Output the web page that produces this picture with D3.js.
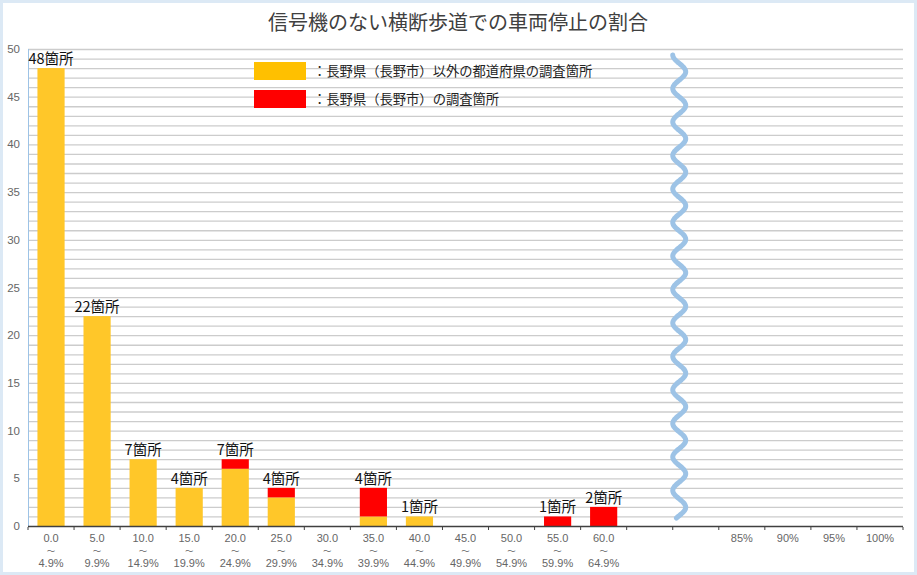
<!DOCTYPE html>
<html>
<head>
<meta charset="utf-8">
<style>
  body { margin: 0; background: #fff; }
  svg { display: block; }
  text { font-family: "Noto Sans CJK JP", "Noto Sans", sans-serif; }
  .lat { font-family: "Liberation Sans", "DejaVu Sans", sans-serif; }
</style>
<script src="https://d3js.org/d3.v7.min.js"></script>
</head>
<body>
<svg width="917" height="575"></svg>
<script>
// slot keys along the x axis (two blanks before the broken part)
var slots = ["0.0", "5.0", "10.0", "15.0", "20.0", "25.0", "30.0", "35.0", "40.0",
             "45.0", "50.0", "55.0", "60.0", "gap1", "gap2", "85%", "90%", "95%", "100%"];
var lowLabels = ["4.9%", "9.9%", "14.9%", "19.9%", "24.9%", "29.9%", "34.9%", "39.9%", "44.9%",
                 "49.9%", "54.9%", "59.9%", "64.9%", "", "", "", "", "", ""];
// survey spots outside Nagano (yellow) and in Nagano city (red)
var otherCounts = [48, 22, 7, 4, 6, 3, 0, 1, 1, 0, 0, 0, 0, 0, 0, 0, 0, 0, 0];
var naganoCounts = [0, 0, 0, 0, 1, 1, 0, 3, 0, 0, 0, 1, 2, 0, 0, 0, 0, 0, 0];
var yTicks = [0, 5, 10, 15, 20, 25, 30, 35, 40, 45, 50];
var legendNames = ["：長野県（長野市）以外の都道府県の調査箇所", "：長野県（長野市）の調査箇所"];
var title = "信号機のない横断歩道での車両停止の割合";

var yellow = "#FFC729", red = "#FF0000";
var svg = d3.select("svg");

// frame
svg.append("rect").attr("x", 1.5).attr("y", 1.5).attr("width", 914).attr("height", 572)
  .attr("fill", "#fff").attr("stroke", "#dce9f5").attr("stroke-width", 3);

var x = d3.scaleBand().domain(slots).range([28, 903]).paddingInner(0.41).paddingOuter(0.205);
var y = d3.scaleLinear().domain([0, 50]).range([526, 49]);
var step = x.step();

// gridlines every 1
svg.append("g").selectAll("line")
  .data(d3.range(1, 51))
  .enter().append("line")
  .attr("x1", 28).attr("x2", 903)
  .attr("y1", d => y(d) + 0.5).attr("y2", d => y(d) + 0.5)
  .attr("stroke", "#cccccc").attr("stroke-width", 1.3);

// y labels
svg.append("g").selectAll("text")
  .data(yTicks)
  .enter().append("text")
  .attr("class", "lat")
  .attr("x", 20).attr("y", d => y(d) + 4)
  .attr("text-anchor", "end")
  .attr("font-size", 11.5).attr("fill", "#666")
  .text(d => d);

// y axis line
svg.append("line").attr("x1", 28.5).attr("x2", 28.5).attr("y1", 49).attr("y2", 526)
  .attr("stroke", "#9dc3e6").attr("stroke-width", 1);

// stacked bars
var rows = slots.map((s, i) => ({ key: s, other: otherCounts[i], nagano: naganoCounts[i] }));
var stacked = d3.stack().keys(["other", "nagano"])(rows);
var colors = { other: yellow, nagano: red };

svg.append("g").selectAll("g")
  .data(stacked)
  .enter().append("g")
  .attr("fill", d => colors[d.key])
  .selectAll("rect")
  .data(d => d)
  .enter().append("rect")
  .attr("x", d => x(d.data.key))
  .attr("width", x.bandwidth())
  .attr("y", d => y(d[1]))
  .attr("height", d => y(d[0]) - y(d[1]));

// total labels
svg.append("g").selectAll("text")
  .data(rows.filter(d => d.other + d.nagano > 0))
  .enter().append("text")
  .attr("x", d => x(d.key) + x.bandwidth() / 2)
  .attr("y", d => y(d.other + d.nagano) - 4)
  .attr("text-anchor", "middle")
  .attr("font-size", 14.5).attr("fill", "#111")
  .text(d => (d.other + d.nagano) + "箇所");

// x axis line + small ticks
svg.append("line").attr("x1", 28).attr("x2", 903).attr("y1", 526.5).attr("y2", 526.5)
  .attr("stroke", "#404040").attr("stroke-width", 1.5);
svg.append("g").selectAll("line")
  .data(d3.range(0, slots.length + 1))
  .enter().append("line")
  .attr("x1", d => 28 + d * step).attr("x2", d => 28 + d * step)
  .attr("y1", 527).attr("y2", 530)
  .attr("stroke", "#404040").attr("stroke-width", 1);

// x labels
var xl = svg.append("g").attr("fill", "#666").attr("text-anchor", "middle");
slots.forEach((s, i) => {
  if (s.indexOf("gap") === 0) return;
  var cx = x(s) + x.bandwidth() / 2;
  xl.append("text").attr("class", "lat").attr("font-size", 11).attr("x", cx).attr("y", 542).text(s);
  if (lowLabels[i]) {
    xl.append("text").attr("font-size", 8.5).attr("x", cx).attr("y", 554).text("～");
    xl.append("text").attr("class", "lat").attr("font-size", 11).attr("x", cx).attr("y", 567).text(lowLabels[i]);
  }
});

// axis break mark (wavy line)
var bx = 28 + 14 * step + 6.5;
var wave = d3.range(55, 518.5, 1).map(v => [bx - 6.5 * Math.cos((v - 55) / 33.5 * 2 * Math.PI), v]);
svg.append("path").attr("d", d3.line().curve(d3.curveBasis)(wave))
  .attr("fill", "none").attr("stroke", "#9dc3e6").attr("stroke-width", 5)
  .attr("stroke-linecap", "round");

// legend
var legend = svg.append("g");
legendNames.forEach((n, i) => {
  legend.append("rect").attr("x", 254).attr("y", 62 + i * 28).attr("width", 52).attr("height", 18)
    .attr("fill", i === 0 ? "#FFC000" : red);
  legend.append("text").attr("x", 313).attr("y", 76 + i * 28)
    .attr("font-size", 13.3).attr("fill", "#222").text(n);
});

// title
svg.append("text").attr("x", 458).attr("y", 30).attr("text-anchor", "middle")
  .attr("font-size", 20).attr("fill", "#404040").text(title);
</script>
</body>
</html>
